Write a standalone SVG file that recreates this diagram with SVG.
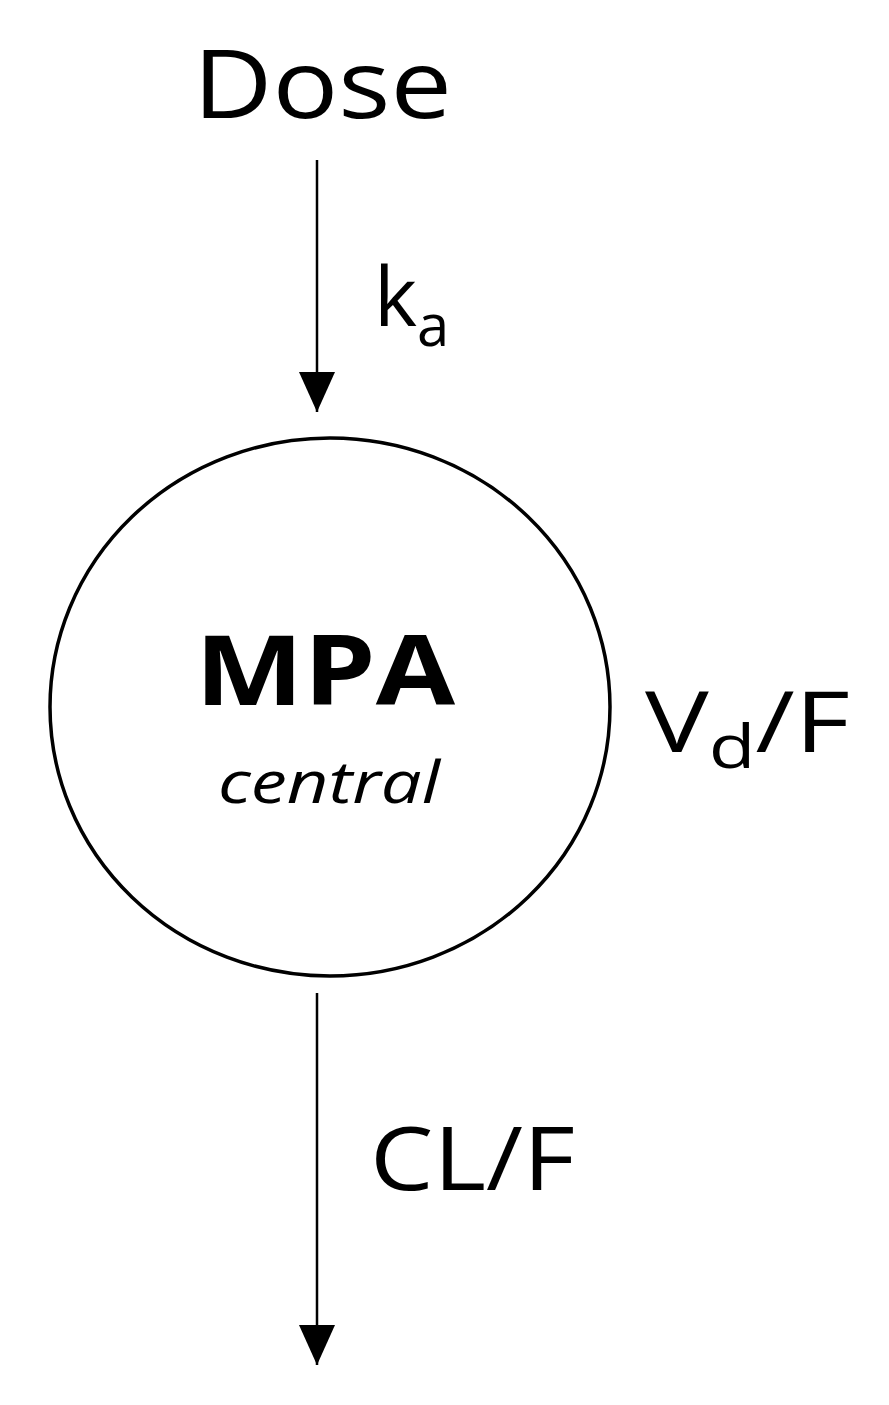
<svg xmlns="http://www.w3.org/2000/svg" width="889" height="1405" viewBox="0 0 889 1405">
<style>
text{font-family:"Open Sans","Noto Sans",sans-serif;fill:#000}
.c{stroke:#000;stroke-width:2.5;fill:none}
</style>
<defs>
<marker id="a" viewBox="0 0 40 36" refX="40" refY="18" markerWidth="40" markerHeight="36" orient="auto" markerUnits="userSpaceOnUse"><path d="M0,0L40,18L0,36z" fill="#000"/></marker></defs>
<rect width="889" height="1405" fill="#fff"/>
<g id="dose"><text x="193" y="118" font-size="96" textLength="259" lengthAdjust="spacingAndGlyphs">Dose</text></g>
<g id="mpa"><ellipse cx="330" cy="707" rx="280" ry="269" fill="#fff" stroke="#000" stroke-width="3.5"/>
<text x="195" y="705" font-size="96" font-weight="bold" textLength="260" lengthAdjust="spacingAndGlyphs">MPA</text>
<text x="218" y="803" font-size="58" font-style="italic" textLength="222" lengthAdjust="spacingAndGlyphs">central</text></g>
<g id="labels">
<text x="374" y="326" font-size="82">k<tspan font-size="58" dy="20">a</tspan></text>
<text x="645" y="752" font-size="84" textLength="205" lengthAdjust="spacingAndGlyphs">V<tspan font-size="60" dy="16">d</tspan><tspan dy="-16">/F</tspan></text>
<text x="370" y="1190" font-size="88" textLength="205" lengthAdjust="spacingAndGlyphs">CL/F</text></g>
<g id="connectors">
<line class="c" x1="317" y1="160" x2="317" y2="412" marker-end="url(#a)"/>
<line class="c" x1="317" y1="993" x2="317" y2="1365" marker-end="url(#a)"/>
</g>
</svg>
